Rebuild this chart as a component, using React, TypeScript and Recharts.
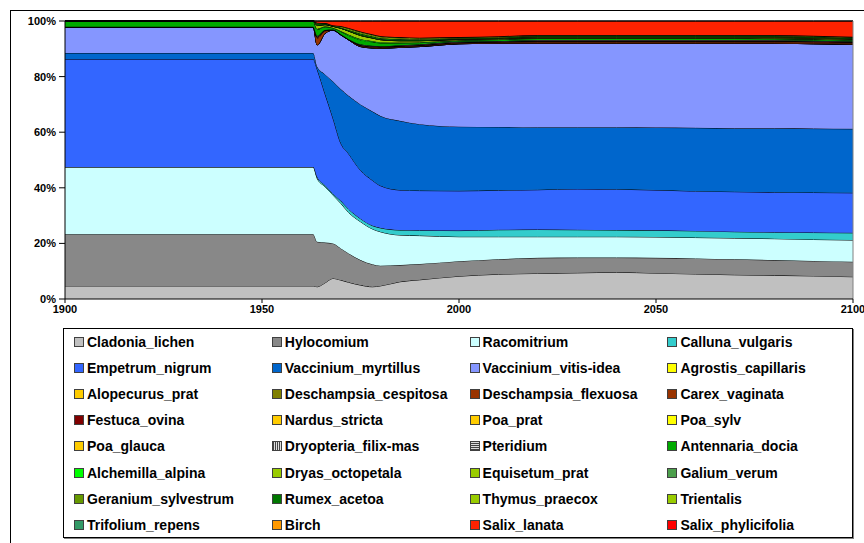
import React from 'react';
import { AreaChart, Area, XAxis, YAxis, Legend, ReferenceLine } from 'recharts';

const years = [1900, 1963, 1964, 1966, 1968, 1970, 1972, 1975, 1978, 1980, 1985, 1990, 2000, 2010, 2020, 2030, 2040, 2050, 2060, 2070, 2080, 2090, 2100];

const cladoniaLichen = [4.7, 4.7, 4.4, 5.8, 7.4, 6.8, 6.0, 5.0, 4.4, 4.7, 6.2, 6.9, 8.2, 8.9, 9.2, 9.4, 9.6, 9.3, 9.0, 8.7, 8.5, 8.3, 8.0];
const hylocomium = [18.6, 18.6, 16.2, 14.5, 12.6, 11.4, 10.4, 9.0, 8.1, 7.3, 6.0, 5.7, 5.4, 5.4, 5.6, 5.5, 5.3, 5.5, 5.6, 5.6, 5.5, 5.4, 5.4];
const racomitrium = [24.2, 24.2, 22.8, 20.1, 17.4, 16.2, 14.7, 13.8, 12.7, 12.2, 10.8, 10.2, 8.8, 8.1, 7.6, 7.5, 7.5, 7.5, 7.5, 7.6, 7.7, 7.7, 7.8];
const callunaVulgaris = [0, 0, 0.5, 0.5, 0.5, 0.9, 1.2, 1.1, 1.2, 1.4, 1.8, 1.9, 2.2, 2.5, 2.6, 2.5, 2.4, 2.4, 2.4, 2.3, 2.3, 2.5, 2.6];
const empetrumNigrum = [38.8, 38.8, 38.7, 32.9, 27.2, 20.7, 19.9, 17.4, 16.3, 15.2, 14.4, 14.3, 14.3, 14.2, 14.3, 14.7, 14.7, 14.5, 14.3, 14.4, 14.4, 14.4, 14.4];
const vacciniumMyrtillus = [2.2, 2.2, 1.0, 7.0, 13.2, 19.5, 20.9, 23.7, 24.8, 25.1, 24.9, 23.9, 23.1, 22.8, 22.5, 22.2, 22.3, 22.5, 22.8, 22.8, 23.0, 23.0, 23.0];
const vacciniumVitisIdea = [9.4, 9.4, 7.8, 14.8, 18.4, 19.5, 20.1, 20.8, 22.8, 24.3, 26.4, 27.9, 29.8, 30.1, 30.2, 30.2, 30.2, 30.3, 30.4, 30.6, 30.6, 30.5, 30.4];
const agrostisCapillaris = [0, 0, 0, 0, 0, 0, 0, 0, 0, 0, 0, 0, 0, 0, 0, 0, 0, 0, 0, 0, 0, 0, 0];
const alopecurusPrat = [0, 0, 0, 0, 0, 0, 0, 0, 0, 0, 0, 0, 0, 0, 0, 0, 0, 0, 0, 0, 0, 0, 0];
const deschampsiaCespitosa = [0, 0, 0, 0, 0, 0, 0, 0, 0, 0, 0, 0, 0, 0, 0, 0, 0, 0, 0, 0, 0, 0, 0];
const deschampsiaFlexuosa = [0, 0, 2.4, 0.8, 0.1, 0.1, 0.1, 0.2, 0.2, 0.2, 0.2, 0.2, 0.2, 0.2, 0.3, 0.3, 0.3, 0.3, 0.3, 0.3, 0.3, 0.3, 0.3];
const carexVaginata = [0, 0, 0.3, 0.2, 0.1, 0.1, 0.1, 0.2, 0.2, 0.2, 0.2, 0.2, 0.2, 0.2, 0.3, 0.3, 0.3, 0.3, 0.3, 0.3, 0.3, 0.3, 0.3];
const festucaOvina = [0, 0, 0.3, 0.2, 0, 0, 0, 0.2, 0.2, 0.2, 0.2, 0.2, 0.2, 0.2, 0.3, 0.3, 0.3, 0.3, 0.3, 0.3, 0.3, 0.3, 0.3];
const nardusStricta = [0, 0, 0, 0, 0, 0, 0, 0, 0, 0, 0, 0, 0, 0, 0, 0, 0, 0, 0, 0, 0, 0, 0];
const poaPrat = [0, 0, 0, 0, 0, 0, 0, 0, 0, 0, 0, 0, 0, 0, 0, 0, 0, 0, 0, 0, 0, 0, 0];
const poaSylv = [0, 0, 0, 0, 0, 0, 0, 0, 0, 0, 0, 0, 0, 0, 0, 0, 0, 0, 0, 0, 0, 0, 0];
const poaGlauca = [0, 0, 0, 0, 0, 0, 0, 0, 0, 0, 0, 0, 0, 0, 0, 0, 0, 0, 0, 0, 0, 0, 0];
const dryopteriaFilixMas = [0, 0, 0, 0, 0, 0, 0, 0, 0, 0, 0, 0, 0, 0, 0, 0, 0, 0, 0, 0, 0, 0, 0];
const pteridium = [0, 0, 0.3, 0, 0, 0, 0, 0.2, 0.2, 0.1, 0.2, 0.2, 0.2, 0.2, 0.3, 0.3, 0.3, 0.3, 0.3, 0.3, 0.3, 0.3, 0.2];
const antennariaDocia = [2.1, 2.1, 2.2, 1.1, 0.6, 1.0, 1.4, 1.6, 1.4, 1.2, 0.8, 0.6, 0.4, 0.5, 0.5, 0.5, 0.5, 0.5, 0.5, 0.5, 0.4, 0.4, 0.4];
const alchemillaAlpina = [0, 0, 0.3, 0.2, 0.1, 0.2, 0.3, 0.3, 0.3, 0.3, 0.2, 0.2, 0.1, 0.1, 0.1, 0.1, 0.1, 0.1, 0.1, 0.1, 0.1, 0.1, 0.1];
const dryasOctopetala = [0, 0, 1.2, 0.6, 0.5, 1.0, 1.3, 1.3, 1.1, 0.9, 0.6, 0.5, 0.3, 0.3, 0.2, 0.2, 0.2, 0.2, 0.2, 0.2, 0.3, 0.3, 0.3];
const equisetumPrat = [0, 0, 0, 0, 0, 0, 0, 0, 0, 0, 0, 0, 0, 0, 0, 0, 0, 0, 0, 0, 0, 0, 0];
const galiumVerum = [0, 0, 0, 0, 0, 0, 0, 0, 0, 0, 0, 0, 0, 0, 0, 0, 0, 0, 0, 0, 0, 0, 0];
const geraniumSylvestrum = [0, 0, 0.2, 0, 0, 0, 0, 0.2, 0.1, 0.1, 0.1, 0.1, 0.1, 0.1, 0.2, 0.2, 0.2, 0.2, 0.2, 0.2, 0.2, 0.2, 0.2];
const rumexAcetoa = [0, 0, 0.4, 0.3, 0.2, 0.3, 0.4, 0.5, 0.5, 0.5, 0.5, 0.4, 0.3, 0.3, 0.4, 0.4, 0.4, 0.4, 0.4, 0.4, 0.4, 0.3, 0.3];
const thymusPraecox = [0, 0, 0.2, 0.2, 0.2, 0.3, 0.4, 0.4, 0.4, 0.4, 0.4, 0.3, 0.2, 0.2, 0.2, 0.2, 0.2, 0.2, 0.2, 0.2, 0.2, 0.2, 0.2];
const trientalis = [0, 0, 0.2, 0.1, 0, 0.2, 0.3, 0.3, 0.3, 0.3, 0.3, 0.3, 0.2, 0.2, 0.2, 0.2, 0.2, 0.2, 0.2, 0.2, 0.2, 0.2, 0.1];
const trifoliumRepens = [0, 0, 0, 0, 0, 0, 0, 0, 0, 0, 0, 0, 0, 0, 0, 0, 0, 0, 0, 0, 0, 0, 0];
const birch = [0, 0, 0, 0, 0, 0, 0, 0, 0, 0, 0, 0, 0, 0, 0, 0, 0, 0, 0, 0, 0, 0, 0];
const salixLanata = [0, 0, 0.6, 0.7, 1.5, 1.8, 2.5, 3.8, 4.8, 5.4, 5.8, 6.0, 5.8, 5.5, 5.0, 5.0, 5.0, 5.0, 5.0, 5.0, 5.0, 5.3, 5.7];
const salixPhylicifolia = [0, 0, 0, 0, 0, 0, 0, 0, 0, 0, 0, 0, 0, 0, 0, 0, 0, 0, 0, 0, 0, 0, 0];

const xTicks = [1900, 1950, 2000, 2050, 2100];
const yTicks = [0, 0.2, 0.4, 0.6, 0.8, 1];

type Series = { key: string; values: number[]; color: string; swatch?: string };

const SERIES: Series[] = [
  { key: 'Cladonia_lichen', values: cladoniaLichen, color: '#C0C0C0' },
  { key: 'Hylocomium', values: hylocomium, color: '#888888' },
  { key: 'Racomitrium', values: racomitrium, color: '#CCFFFF' },
  { key: 'Calluna_vulgaris', values: callunaVulgaris, color: '#33CCCC' },
  { key: 'Empetrum_nigrum', values: empetrumNigrum, color: '#3366FF' },
  { key: 'Vaccinium_myrtillus', values: vacciniumMyrtillus, color: '#0066CC' },
  { key: 'Vaccinium_vitis-idea', values: vacciniumVitisIdea, color: '#8596FF' },
  { key: 'Agrostis_capillaris', values: agrostisCapillaris, color: '#FFFF00' },
  { key: 'Alopecurus_prat', values: alopecurusPrat, color: '#FFCC00' },
  { key: 'Deschampsia_cespitosa', values: deschampsiaCespitosa, color: '#808000' },
  { key: 'Deschampsia_flexuosa', values: deschampsiaFlexuosa, color: '#993300' },
  { key: 'Carex_vaginata', values: carexVaginata, color: '#993300' },
  { key: 'Festuca_ovina', values: festucaOvina, color: '#800000' },
  { key: 'Nardus_stricta', values: nardusStricta, color: '#FFCC00' },
  { key: 'Poa_prat', values: poaPrat, color: '#FFCC00' },
  { key: 'Poa_sylv', values: poaSylv, color: '#FFFF00' },
  { key: 'Poa_glauca', values: poaGlauca, color: '#FFCC00' },
  { key: 'Dryopteria_filix-mas', values: dryopteriaFilixMas, color: '#808080', swatch: 'repeating-linear-gradient(90deg, #444 0px, #444 1px, #ddd 1px, #ddd 2px)' },
  { key: 'Pteridium', values: pteridium, color: '#606060', swatch: 'repeating-linear-gradient(0deg, #444 0px, #444 1px, #ddd 1px, #ddd 2px)' },
  { key: 'Antennaria_docia', values: antennariaDocia, color: '#00AA00' },
  { key: 'Alchemilla_alpina', values: alchemillaAlpina, color: '#00FF00' },
  { key: 'Dryas_octopetala', values: dryasOctopetala, color: '#99CC00' },
  { key: 'Equisetum_prat', values: equisetumPrat, color: '#99CC00' },
  { key: 'Galium_verum', values: galiumVerum, color: '#4C9F4C' },
  { key: 'Geranium_sylvestrum', values: geraniumSylvestrum, color: '#669900' },
  { key: 'Rumex_acetoa', values: rumexAcetoa, color: '#007700' },
  { key: 'Thymus_praecox', values: thymusPraecox, color: '#99CC00' },
  { key: 'Trientalis', values: trientalis, color: '#99CC00' },
  { key: 'Trifolium_repens', values: trifoliumRepens, color: '#339966' },
  { key: 'Birch', values: birch, color: '#FF9900' },
  { key: 'Salix_lanata', values: salixLanata, color: '#FF2200' },
  { key: 'Salix_phylicifolia', values: salixPhylicifolia, color: '#FF0000' },
];

const data = years.map((year, i) => {
  const row: Record<string, number> = { year };
  SERIES.forEach((s) => {
    row[s.key] = s.values[i];
  });
  return row;
});

const FONT = '"Liberation Sans", Arial, sans-serif';

const renderLegend = () => (
  <div
    style={{
      width: 790,
      height: 210,
      border: '1px solid #000',
      boxShadow: '1px 1px 0 #808080',
      boxSizing: 'border-box',
      background: '#fff',
      display: 'grid',
      gridTemplateColumns: 'repeat(4, 197.8px)',
      gridAutoRows: '26.1px',
      paddingLeft: 10,
      paddingTop: 0,
      fontFamily: FONT,
      fontWeight: 'bold',
      fontSize: 14,
      color: '#000',
    }}
  >
    {SERIES.map((s) => (
      <div key={s.key} style={{ display: 'flex', alignItems: 'center', whiteSpace: 'nowrap' }}>
        <span
          style={{
            display: 'inline-block',
            width: 8,
            height: 8,
            border: '1px solid #404040',
            background: s.swatch || s.color,
            marginRight: 3,
            flex: 'none',
          }}
        />
        <span>{s.key}</span>
      </div>
    ))}
  </div>
);

export default function App() {
  return (
    <div style={{ position: 'absolute', left: 0, top: 0, width: 864, height: 543, background: '#fff', overflow: 'hidden' }}>
      <div
        style={{
          position: 'absolute',
          left: 10,
          top: 10,
          width: 854,
          height: 533,
          borderLeft: '1px solid #000',
          borderTop: '1px solid #000',
          boxSizing: 'border-box',
        }}
      />
      <div style={{ position: 'absolute', left: 0, top: 0 }}>
        <AreaChart
          width={864}
          height={543}
          data={data}
          stackOffset="expand"
          margin={{ top: 21, right: 11, left: 0, bottom: 224 }}
        >
          <XAxis
            dataKey="year"
            type="number"
            domain={[1900, 2100]}
            ticks={xTicks}
            interval={0}
            height={20}
            tickSize={4}
            tickMargin={2}
            axisLine={{ stroke: '#000' }}
            tickLine={{ stroke: '#000' }}
            tick={{ fontSize: 11, fontWeight: 'bold', fill: '#000', fontFamily: FONT }}
          />
          <YAxis
            width={65}
            domain={[0, 1]}
            ticks={yTicks}
            interval={0}
            tickSize={6}
            tickMargin={3}
            axisLine={{ stroke: '#000' }}
            tickLine={{ stroke: '#000' }}
            tickFormatter={(v: number) => `${Math.round(v * 100)}%`}
            tick={{ fontSize: 11, fontWeight: 'bold', fill: '#000', fontFamily: FONT }}
          />
          {SERIES.map((s) => (
            <Area
              key={s.key}
              dataKey={s.key}
              stackId="1"
              type="monotone"
              fill={s.color}
              fillOpacity={1}
              stroke="#000"
              strokeWidth={1}
              isAnimationActive={false}
              dot={false}
              activeDot={false}
            />
          ))}
          <ReferenceLine x={2100} stroke="#808080" strokeWidth={1} />
          <Legend
            layout="horizontal"
            verticalAlign="middle"
            align="center"
            content={renderLegend}
            wrapperStyle={{ position: 'absolute', left: 63, top: 328, width: 790, height: 210 }}
          />
        </AreaChart>
      </div>
    </div>
  );
}
